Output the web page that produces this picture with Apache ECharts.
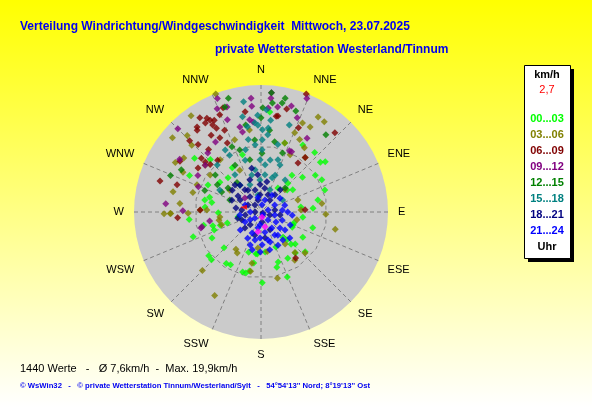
<!DOCTYPE html>
<html>
<head>
<meta charset="utf-8">
<script src="https://cdn.jsdelivr.net/npm/echarts@6/dist/echarts.min.js"></script>
<style>
  html, body { margin: 0; padding: 0; }
  #chart { width: 592px; height: 407px; }
</style>
</head>
<body>
<div id="chart"></div>
<script>
// compass labels, every 22.5 degrees starting at north
const directions = ['N', 'NNE', 'NE', 'ENE', 'E', 'ESE', 'SE', 'SSE', 'S', 'SSW', 'SW', 'WSW', 'W', 'WNW', 'NW', 'NNW'];
const hourRanges = ['00...03', '03...06', '06...09', '09...12', '12...15', '15...18', '18...21', '21...24'];
const hourColors = ['#00ff00', '#808000', '#800000', '#800080', '#008000', '#008080', '#000080', '#0000ff'];
const ringSpeed = 9.9; // dashed 16-gon grid ring, km/h

// each point: [speed km/h, direction deg]
const h00_03 = [
    [10.8, 264], [10.8, 250], [8.3, 242], [7.7, 226], [10.2, 230], [10.3, 226], [9.3, 214], [9.1, 210],
    [9.4, 197], [9.4, 194], [9.0, 191], [10.6, 179], [3.5, 258], [6.3, 197], [6.3, 187], [7.7, 188],
    [6.4, 269], [7.5, 254], [7.5, 249], [6.4, 252], [5.3, 252], [8.8, 257],
    [7.8, 86], [6.0, 83], [6.3, 97], [5.2, 108], [5.2, 116], [8.1, 107], [7.3, 121], [5.0, 139],
    [5.7, 137], [7.0, 133], [6.6, 137], [5.7, 157], [8.9, 132], [8.0, 140], [8.0, 150], [6.0, 174],
    [6.3, 185], [7.9, 161], [8.6, 164], [10.5, 158],
    [15.0, 5], [10.9, 19], [11.8, 32], [12.0, 42], [11.6, 50], [12.2, 52], [9.8, 56], [7.2, 40],
    [5.9, 43], [5.8, 55], [10.1, 71], [8.7, 78], [10.3, 62], [8.1, 50], [5.1, 50], [5.2, 112], [4.4, 35],
    [12.8, 309], [10.9, 316], [8.9, 297], [7.6, 306], [12.0, 297], [7.5, 281], [8.6, 282],
    [8.0, 286], [8.4, 275], [7.1, 316], [9.0, 342], [7.9, 327]
];
const h03_06 = [
    [14.5, 269], [13.5, 269], [10.9, 269], [12.4, 225], [14.3, 209], [6.7, 214], [7.1, 210], [9.0, 190],
    [5.4, 185], [6.4, 259], [8.1, 272], [18.9, 339], [17.8, 324], [17.3, 310], [15.9, 316], [14.4, 314],
    [14.1, 305], [14.8, 300], [13.1, 297], [13.5, 283], [12.2, 276], [10.6, 286], [10.4, 293], [13.6, 269],
    [9.4, 306], [9.7, 92], [11.4, 103], [5.5, 102], [6.0, 87], [9.0, 133], [8.8, 145], [6.0, 143],
    [6.0, 171], [10.2, 166], [16.6, 31], [16.5, 35], [14.7, 25], [14.7, 30], [12.9, 23], [12.3, 28],
    [11.6, 34], [10.9, 19], [9.6, 27], [4.9, 47], [5.8, 72], [9.2, 82], [10.5, 39], [7.8, 190],
    [6.2, 252], [6.2, 263], [9.1, 272], [7.9, 140], [9.9, 322], [5.7, 305], [7.0, 333], [10.9, 310],
    [11.5, 340], [12.4, 352]
];
const h06_09 = [
    [12.5, 266], [9.1, 272], [6.6, 87], [8.6, 143], [18.9, 21], [15.9, 14], [14.6, 10], [16.2, 43],
    [13.8, 24], [10.5, 39], [9.2, 37], [19.9, 355], [16.2, 330], [15.7, 331], [15.7, 328], [14.9, 331],
    [14.2, 332], [15.9, 323], [15.5, 322], [13.7, 327], [12.7, 331], [13.8, 317], [16.6, 340], [15.8, 337],
    [15.8, 287], [13.2, 288], [14.3, 302], [12.0, 312], [11.2, 312], [11.5, 334], [12.2, 320], [15.2, 351],
    [14.5, 9], [10.4, 313], [11.5, 305], [10.1, 320], [15.4, 333], [16.8, 327], [13.4, 336], [15.1, 315]
];
const h09_12 = [
    [11.7, 271], [9.3, 255], [7.8, 260], [19.4, 10], [19.2, 9], [17.9, 5], [17.1, 5], [18.3, 22],
    [15.9, 9], [15.6, 4], [15.1, 21], [13.0, 32], [10.1, 25], [19.1, 351], [18.2, 339], [16.8, 337],
    [17.6, 315], [14.7, 340], [14.5, 303], [12.5, 327], [14.3, 275], [13.1, 346], [16.5, 342], [10.9, 300],
    [13.5, 355], [10.9, 310], [17.1, 355], [13.9, 353], [15.9, 355], [16.5, 16], [12.3, 347], [9.1, 256],
    [10.1, 292], [11.9, 318], [10.1, 27], [3.2, 311]
];
const h12_15 = [
    [17.4, 12], [16.0, 19], [15.1, 40], [15.6, 1], [16.4, 6], [17.7, 344], [16.6, 341], [14.6, 292],
    [13.5, 298], [14.1, 0], [17.9, 5], [16.6, 11], [10.7, 336], [5.7, 321], [6.6, 297], [6.1, 306],
    [7.7, 302], [5.1, 45], [8.8, 1], [10.7, 11], [9.4, 20], [9.8, 341], [8.0, 348], [8.0, 331],
    [10.8, 355], [13.2, 350], [12.3, 6], [8.8, 309], [9.0, 291], [5.0, 291]
];
const h15_18 = [
    [16.7, 351], [14.5, 349], [9.7, 331], [9.6, 317], [14.5, 358], [11.6, 5], [13.4, 356], [12.3, 1],
    [12.9, 351], [12.6, 5], [10.1, 355], [9.3, 1], [7.9, 10], [6.4, 352], [5.6, 6], [4.8, 358],
    [5.9, 21], [4.4, 338], [3.6, 22], [7.6, 22], [8.1, 343], [6.8, 325], [10.7, 330], [2.6, 350],
    [6.0, 37], [11.0, 350], [15.3, 3], [13.8, 6], [13.7, 18], [7.0, 298], [5.1, 322], [10.4, 14], [3.7, 61],
    [7.8, 359], [7.1, 5], [5.7, 346], [5.4, 18], [10.8, 1], [9.6, 346], [13.0, 358], [8.2, 18]
];
const h18_21 = [
    [5.1, 341], [4.1, 324], [3.6, 300], [3.8, 279], [2.4, 259], [1.4, 319], [2.6, 357], [3.6, 9],
    [2.2, 37], [2.1, 82], [2.5, 220], [1.5, 174], [3.0, 153], [3.6, 195], [3.4, 225], [5.6, 355],
    [6.7, 348], [5.1, 322], [5.4, 307], [2.2, 298], [0.3, 120], [4.6, 11], [2.9, 99], [3.3, 39],
    [3.4, 345], [3.1, 247], [4.2, 305], [3.9, 171], [1.8, 346], [1.4, 108],
    [5.6, 316], [4.1, 358], [2.8, 22], [2.8, 324], [2.9, 276], [0.9, 270], [3.8, 329], [4.7, 292],
    [3.6, 255], [4.4, 41]
];
const h21_24 = [
    [1.1, 8], [1.1, 74], [2.1, 102], [3.4, 111], [3.7, 74], [3.5, 54], [3.0, 33], [4.8, 114],
    [4.0, 90], [1.9, 184], [3.1, 169], [2.9, 146], [4.3, 144], [4.3, 192], [5.2, 198], [4.9, 178],
    [4.7, 163], [5.3, 142], [1.6, 270], [2.8, 238], [1.3, 225], [1.6, 139], [2.7, 124], [2.4, 191],
    [3.7, 130], [4.7, 96], [1.9, 18], [2.3, 63], [3.4, 203], [6.0, 181],
    [2.2, 348], [4.5, 127], [4.4, 207], [4.1, 229], [5.8, 167], [5.8, 193], [5.6, 153], [0.5, 146],
    [3.2, 85], [4.0, 149], [2.6, 294], [4.3, 166], [3.9, 182], [5.8, 132], [2.0, 234], [3.2, 262]
];
const latest = [[0.8, 169], [3.0, 189], [2.3, 165]];
const meanVector = [[2.7, 285]];

const hourData = [h00_03, h03_06, h06_09, h09_12, h12_15, h15_18, h18_21, h21_24];

const font = 'Liberation Sans, Arial, sans-serif';
const myChart = echarts.init(document.getElementById('chart'));
const dash = { color: '#808080', type: [4, 3], width: 1 };

// grid ring: corners half-way between the compass spokes
const ring = [];
for (let k = 0; k <= 16; k++) ring.push([ringSpeed, 11.25 + k * 22.5]);

const series = [{
    type: 'line', coordinateSystem: 'polar', data: ring, symbol: 'none', silent: true, z: 1,
    lineStyle: dash,
}];
hourData.forEach((d, i) => series.push({
    name: hourRanges[i],
    type: 'scatter',
    coordinateSystem: 'polar',
    symbol: 'diamond',
    symbolSize: 7,
    itemStyle: { color: hourColors[i] },
    data: d,
    silent: true,
    z: 5,
}));
series.push({
    type: 'scatter', coordinateSystem: 'polar', symbol: 'diamond', symbolSize: 7, z: 5,
    itemStyle: { color: '#ff00ff' }, data: latest, silent: true,
});
series.push({
    type: 'scatter', coordinateSystem: 'polar', symbol: 'triangle', symbolSize: [5, 7], symbolRotate: 90, z: 6,
    itemStyle: { color: '#ff0000' }, data: meanVector, silent: true,
});

// legend box rows
const legendRows = [
    { text: 'km/h', y: 75, color: '#000', weight: 'bold' },
    { text: '2,7', y: 90, color: '#ff0000', weight: 'normal' },
];
hourRanges.forEach((h, i) => legendRows.push({ text: h, y: 119 + i * 16, color: hourColors[i], weight: 'bold' }));
legendRows.push({ text: 'Uhr', y: 247, color: '#000', weight: 'bold' });

const option = {
    animation: false,
    backgroundColor: {
        type: 'linear', x: 0, y: 0, x2: 0, y2: 1,
        colorStops: [{ offset: 0, color: '#ffff00' }, { offset: 1, color: '#ffffff' }],
    },
    polar: { center: [261, 212], radius: 127 },
    angleAxis: {
        type: 'value', min: 0, max: 360, interval: 22.5, startAngle: 90, clockwise: true, z: 2,
        axisLine: { show: false },
        axisTick: { show: false },
        axisLabel: {
            margin: 10, color: '#000', fontSize: 11, fontFamily: font,
            formatter: v => (v >= 360 ? '' : directions[Math.round(v / 22.5) % 16]),
        },
        splitLine: { show: true, lineStyle: dash },
    },
    radiusAxis: {
        min: 0, max: 19, interval: 19, z: 0,
        axisLine: { show: false }, axisTick: { show: false }, axisLabel: { show: false },
        splitLine: { show: false },
        splitArea: { show: true, areaStyle: { color: ['#cbcbcb'] } },
    },
    graphic: [
        { type: 'text', left: 20, top: 21, style: { text: 'Verteilung Windrichtung/Windgeschwindigkeit  Mittwoch, 23.07.2025', fill: '#0000f0', font: 'bold 12px ' + font } },
        { type: 'text', left: 215, top: 44, style: { text: 'private Wetterstation Westerland/Tinnum', fill: '#0000f0', font: 'bold 12px ' + font } },
        { type: 'text', left: 20, top: 363, style: { text: '1440 Werte   -   Ø 7,6km/h  -  Max. 19,9km/h', fill: '#000', font: '11px ' + font } },
        { type: 'text', left: 20, top: 382, style: { text: "© WsWin32   -   © private Wetterstation Tinnum/Westerland/Sylt   -   54°54'13'' Nord; 8°19'13'' Ost", fill: '#0000f0', font: 'bold 7.7px ' + font } },
        { type: 'rect', shape: { x: 528, y: 69, width: 46, height: 193 }, style: { fill: '#000' }, z: 10 },
        { type: 'rect', shape: { x: 524.5, y: 65.5, width: 46, height: 193 }, style: { fill: '#fff', stroke: '#000', lineWidth: 1 }, z: 11 },
        ...legendRows.map(r => ({
            type: 'text', x: 547, y: r.y, z: 12,
            style: { text: r.text, fill: r.color, font: r.weight + ' 11px ' + font, align: 'center', verticalAlign: 'middle' },
        })),
    ],
    series: series,
};
myChart.setOption(option);
</script>
</body>
</html>
